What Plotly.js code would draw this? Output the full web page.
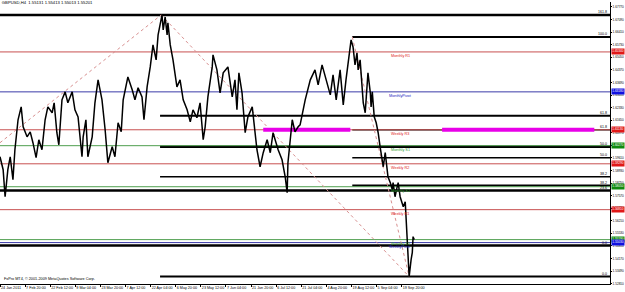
<!DOCTYPE html>
<html><head><meta charset="utf-8">
<script src="https://cdn.plot.ly/plotly-3.0.1.min.js"></script>
<style>html,body{margin:0;padding:0;background:#fff}#chart{width:625px;height:292px}</style>
</head><body><div id="chart"></div>
<script>
// ---------- DATA ----------
const symbolTitle = "GBPUSD,H4  1.55131 1.55413 1.55013 1.55201";
const copyright = "FxPro MT4, \u00a9 2001-2009 MetaQuotes Software Corp.";

// price path (bar index, price)
const barIndex = [0,8,13,20,26,33,38,46,54,59,69,77,84,92,99,107,115,122,133,138,145,150,158,166,173,184,191,199,209,212,219,224,235,242,250,260,268,275,286,293,301,309,314,326,337,344,352,362,367,375,383,390,398,403,408,413,416,421,426,428,434,441,451,459,467,477,485,492,502,510,518,523,530,541,543,553,561,569,581,592,599,604,609,617,625,632,643,648,655,663,671,681,689,696,709,719,727,732,734,745,752,760,765,778,791,803,811,821,831,842,849,857,867,875,882,890,895,900,905,910,913,918,923,926,931,936,938,944,946,949,954,959,964,969,974,977,982,987,989,995,1000,1002,1007,1012,1015,1020,1025,1028,1033,1035,1038,1040,1043,1048,1051,1053,1056];
const priceValue = [1.5967,1.5897,1.5751,1.5897,1.5967,1.5843,1.6005,1.6167,1.6237,1.6129,1.6075,1.6102,1.6043,1.5962,1.6059,1.6005,1.6167,1.6237,1.6205,1.6259,1.6097,1.6032,1.6275,1.6318,1.6259,1.6318,1.6221,1.6183,1.5967,1.6075,1.6167,1.5967,1.6075,1.6259,1.6383,1.6275,1.6113,1.5935,1.6021,1.5967,1.6151,1.6102,1.6275,1.6399,1.6329,1.6275,1.6340,1.6291,1.6167,1.6345,1.6453,1.6572,1.6491,1.6626,1.6680,1.6734,1.6653,1.6723,1.6626,1.6691,1.6572,1.6491,1.6345,1.6383,1.6275,1.6221,1.6156,1.6221,1.6178,1.6259,1.6059,1.6129,1.6291,1.6453,1.6518,1.6437,1.6313,1.6421,1.6453,1.6291,1.6383,1.6221,1.6421,1.6313,1.6097,1.6183,1.6237,1.6151,1.6005,1.5913,1.5989,1.6059,1.5989,1.6097,1.6005,1.5951,1.5859,1.5773,1.5935,1.6167,1.6102,1.6129,1.6140,1.6275,1.6383,1.6437,1.6356,1.6464,1.6383,1.6302,1.6410,1.6275,1.6437,1.6248,1.6383,1.6518,1.6599,1.6561,1.6464,1.6529,1.6437,1.6491,1.6367,1.6259,1.6205,1.6383,1.6421,1.6313,1.6237,1.6318,1.6183,1.6151,1.6097,1.6021,1.5951,1.5913,1.5989,1.5913,1.5859,1.5827,1.5789,1.5827,1.5751,1.5800,1.5827,1.5751,1.5719,1.5697,1.5724,1.5627,1.5535,1.5427,1.5319,1.5411,1.5449,1.5535,1.5519];

// time axis labels
const timeTickBars = [0,64,128,192,256,320,384,448,512,576,640,704,768,832,896,960,1024];
const timeTickLabels = ["24 Jan 2011","7 Feb 20:00","22 Feb 12:00","9 Mar 04:00","23 Mar 20:00","7 Apr 12:00","22 Apr 04:00","6 May 20:00","23 May 12:00","7 Jun 04:00","21 Jun 20:00","6 Jul 12:00","21 Jul 04:00","4 Aug 20:00","19 Aug 12:00","5 Sep 04:00","19 Sep 20:00"];

// price axis labels
const priceTicks = [1.6777,1.6709,1.6641,1.6573,1.6505,1.6437,1.6369,1.6301,1.6233,1.6165,1.6097,1.6029,1.5961,1.5893,1.5825,1.5757,1.5689,1.5621,1.5553,1.5485,1.5417,1.5349,1.5281];

// Fibonacci levels
const fibPrices    = [1.6734,1.6615,1.6189,1.6113,1.6021,1.5962,1.5859,1.5811,1.5784,1.5487,1.5319];
const fibStartBars = [0,898,408,898,408,898,408,898,0,0,408];
const fibLabels    = ["161.8","100.0","61.8","61.8","50.0","50.0","38.2","38.2","23.6","0.0","0.0"];

// pivot levels
const pivotNames  = ["Monthly R1","MonthlyPivot","Weekly R3","Monthly S1","Weekly R2","Monthly S2","Weekly R1","Monthly S3","WeeklyPivot"];
const pivotPrices = [1.6534,1.6318,1.6113,1.6027,1.5929,1.5805,1.5681,1.5519,1.5503];

// highlighted zones (magenta)
const zoneStartBars = [671,1127];
const zoneEndBars   = [893,1515];
const zonePrice     = [1.6113,1.6113];

// dotted trend lines
const trendBar0   = [0,411,898];
const trendPrice0 = [1.6043,1.6734,1.6615];
const trendBar1   = [411,1043,1043];
const trendPrice1 = [1.6734,1.5319,1.5319];

// ---------- STYLE ----------
const FONT = "Liberation Sans, Arial, sans-serif";
const xMax = 1555;
const yMin = 1.5279, yMax = 1.6804;
const fibWidths = [2.5,2,2,1.2,2.5,1.5,1.5,2,2.5,2.5,2];
function pivotColor(n){ return n.includes("Pivot") ? "#3a3aa8" : (/R\d/.test(n) ? "#c85050" : "#4f9f4f"); }
function pivotTextColor(n){ return n.includes("Pivot") ? "#2020c0" : (/R\d/.test(n) ? "#e02020" : "#30a030"); }
function pivotBoxColor(n){ return n.includes("Pivot") ? "#1010e0" : (/R\d/.test(n) ? "#e01818" : "#108a10"); }

const shapes = [];
fibPrices.forEach((p,i)=>shapes.push({type:"line",xref:"x",yref:"y",x0:fibStartBars[i],x1:xMax,y0:p,y1:p,layer:"below",line:{color:"#000",width:fibWidths[i]}}));
pivotPrices.forEach((p,i)=>shapes.push({type:"line",xref:"x",yref:"y",x0:0,x1:xMax,y0:p,y1:p,layer:"below",line:{color:pivotColor(pivotNames[i]),width:1}}));

const traces = [];
trendBar0.forEach((b,i)=>traces.push({type:"scatter",mode:"lines",x:[b,trendBar1[i]],y:[trendPrice0[i],trendPrice1[i]],line:{color:"#d89090",width:1,dash:"dot"},hoverinfo:"skip",showlegend:false}));
zoneStartBars.forEach((b,i)=>traces.push({type:"scatter",mode:"lines",x:[b,zoneEndBars[i]],y:[zonePrice[i],zonePrice[i]],line:{color:"#e800e8",width:4},hoverinfo:"skip",showlegend:false}));
traces.push({type:"scatter",mode:"lines",x:barIndex,y:priceValue,line:{color:"#000",width:1.5},hoverinfo:"skip",showlegend:false});

const annotations = [];
fibPrices.forEach((p,i)=>annotations.push({xref:"paper",yref:"y",x:1,y:p,xanchor:"right",yanchor:"bottom",xshift:-1,yshift:-1,text:fibLabels[i],showarrow:false,font:{family:FONT,size:3.6,color:"#000"}}));
pivotPrices.forEach((p,i)=>{
  annotations.push({xref:"x",yref:"y",x:1020,y:p,xanchor:"center",yanchor:"top",text:pivotNames[i],showarrow:false,font:{family:FONT,size:3.8,color:pivotTextColor(pivotNames[i])}});
  annotations.push({xref:"paper",yref:"y",x:1,y:p,xanchor:"left",yanchor:"middle",xshift:0.5,text:p.toFixed(5),showarrow:false,bgcolor:pivotBoxColor(pivotNames[i]),borderpad:0.3,font:{family:FONT,size:3.1,color:"#fff"}});
});
annotations.push({xref:"paper",yref:"paper",x:0.003,y:0,xanchor:"left",yanchor:"bottom",yshift:1,text:copyright,showarrow:false,font:{family:FONT,size:3.8,color:"#000"}});

const layout = {
  width:625,height:292,
  margin:{l:0,r:15,t:2,b:8,pad:0},
  paper_bgcolor:"#fff",plot_bgcolor:"#fff",
  showlegend:false,
  title:{text:symbolTitle,x:0.003,xanchor:"left",xref:"paper",y:0.995,yref:"container",yanchor:"top",font:{family:FONT,size:4.2,color:"#000"}},
  xaxis:{type:"linear",range:[0,xMax],tickvals:timeTickBars,ticktext:timeTickLabels,ticks:"outside",ticklen:2,tickcolor:"#000",tickangle:0,
         tickfont:{family:FONT,size:3.7,color:"#000"},ticklabelposition:"outside right",showline:true,linecolor:"#000",linewidth:1,
         showgrid:false,zeroline:false,automargin:false,fixedrange:true},
  yaxis:{side:"right",range:[yMin,yMax],tickvals:priceTicks,ticktext:priceTicks.map(v=>v.toFixed(5)),ticks:"outside",ticklen:1,tickcolor:"#000",
         tickfont:{family:FONT,size:3.1,color:"#000"},showline:true,linecolor:"#000",linewidth:1,
         showgrid:false,zeroline:false,automargin:false,fixedrange:true},
  shapes:shapes,
  annotations:annotations
};
Plotly.newPlot("chart",traces,layout,{staticPlot:true,displayModeBar:false});
</script></body></html>
